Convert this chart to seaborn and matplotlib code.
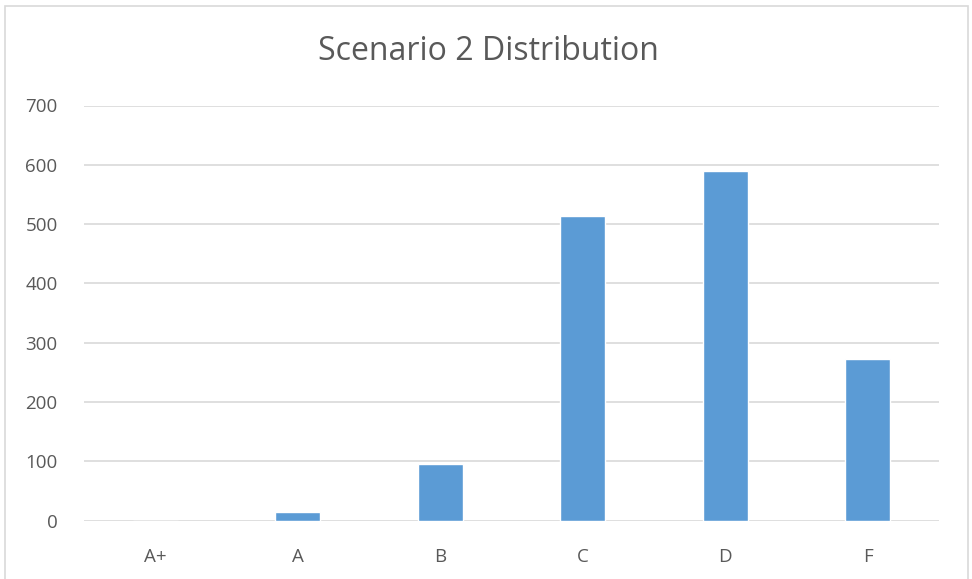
import matplotlib
matplotlib.use("Agg")
import matplotlib.pyplot as plt
import seaborn as sns
import pandas as pd
from matplotlib.patches import Rectangle

grades = ["A+", "A", "B", "C", "D", "F"]
counts = [0, 14, 95, 513, 590, 272]
y_ticks = [0, 100, 200, 300, 400, 500, 600, 700]

df = pd.DataFrame({"grade": grades, "count": counts})

sns.set_theme(style="white")
plt.rcParams["font.family"] = ["Open Sans", "DejaVu Sans"]

fig = plt.figure(figsize=(9.72, 5.79), dpi=100)
ax = fig.add_axes([84 / 972, 1 - 520.5 / 579, (939 - 84) / 972, (520.5 - 105.5) / 579])

sns.barplot(data=df, x="grade", y="count", color="#5b9bd5", width=0.315,
            saturation=1, ax=ax, zorder=3)

ax.set_ylim(0, 700)
ax.set_yticks(y_ticks)
ax.yaxis.grid(True, color="#d9d9d9", linewidth=1.2, zorder=0)
ax.set_axisbelow(True)
for s in ax.spines.values():
    s.set_visible(False)
ax.set_xlabel("")
ax.set_ylabel("")
ax.tick_params(axis="both", length=0, labelsize=13.5, colors="#595959")
ax.tick_params(axis="y", pad=19)
ax.tick_params(axis="x", pad=20)

fig.text(488 / 972, 1 - 52 / 579, "Scenario 2 Distribution", ha="center", va="center",
         fontsize=23, color="#595959")

# chart frame
fig.patches.append(Rectangle((5 / 972, -0.01), (968 - 5) / 972, 1 - 6 / 579 + 0.01,
                             transform=fig.transFigure, fill=False,
                             edgecolor="#d9d9d9", linewidth=1.2))

fig.savefig("out.png", dpi=100)
